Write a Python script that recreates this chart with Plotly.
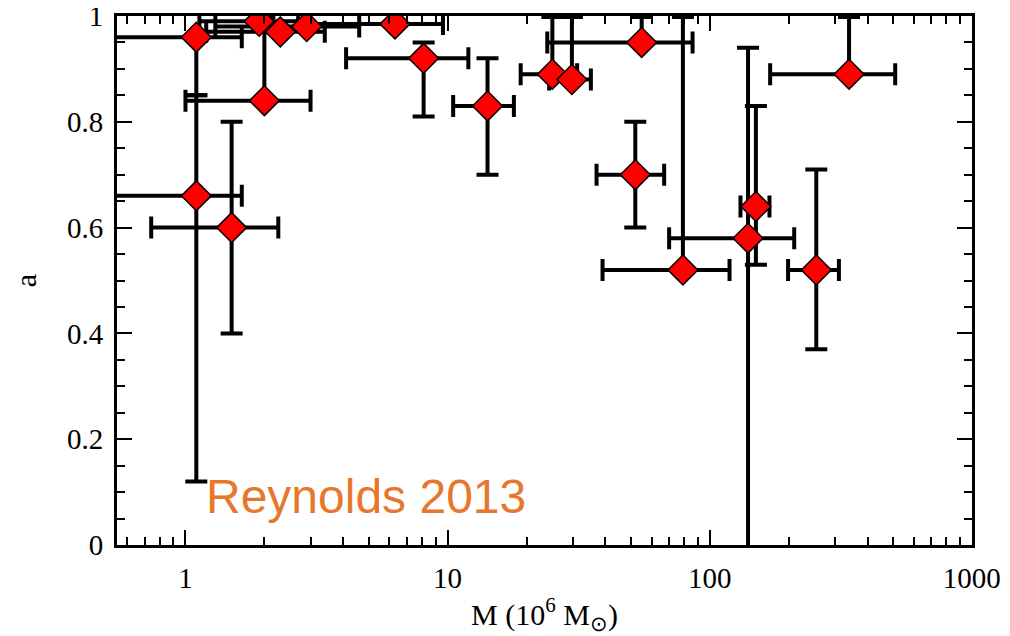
import plotly.graph_objects as go
import math

# Black hole mass (10^6 Msun) and spin a, with asymmetric errors
mass       = [1.1, 1.1, 1.5, 2.0, 1.91, 2.3, 2.9, 6.3, 8.1, 14.2, 25.1, 29.8, 55, 52, 79, 140, 150, 255, 340]
mass_plus  = [0.54, 0.54, 0.76, 1.0, 0.78, 1.1, 1.7, 3.3, 3.9, 3.7, 6.1, 5.4, 31, 15, 40, 70, 19, 56, 170]
mass_minus = [0.6, 0.6, 0.76, 1.0, 0.78, 1.1, 1.6, 3.3, 4.0, 3.7, 6.1, 5.4, 31, 15, 40, 70, 19, 56, 170]
spin       = [0.96, 0.66, 0.60, 0.84, 0.99, 0.97, 0.98, 0.985, 0.92, 0.83, 0.89, 0.88, 0.95, 0.70, 0.52, 0.58, 0.64, 0.52, 0.89]
spin_plus  = [0.0, 0.19, 0.2, 0.158, 0.0, 0.0, 0.0, 0.0, 0.03, 0.09, 0.108, 0.118, 0.048, 0.1, 0.478, 0.36, 0.19, 0.19, 0.108]
spin_minus = [0.11, 0.54, 0.2, 0.0, 0.0, 0.0, 0.0, 0.0, 0.11, 0.13, 0.0, 0.0, 0.0, 0.1, 0.0, 0.74, 0.11, 0.15, 0.0]

x_ticks = [1, 10, 100, 1000]
y_ticks = [0, 0.2, 0.4, 0.6, 0.8, 1]

serif = "Liberation Serif, Times New Roman, serif"

fig = go.Figure()
fig.add_trace(go.Scatter(
    x=mass, y=spin, mode="markers",
    marker=dict(symbol="diamond", size=23, color="#ff0000",
                line=dict(color="black", width=1.5)),
    error_x=dict(type="data", symmetric=False, array=mass_plus, arrayminus=mass_minus,
                 color="black", thickness=4, width=11),
    error_y=dict(type="data", symmetric=False, array=spin_plus, arrayminus=spin_minus,
                 color="black", thickness=4, width=11),
    showlegend=False,
))

axis_common = dict(
    showline=True, linecolor="black", linewidth=3, mirror="ticks",
    ticks="inside", ticklen=15, tickwidth=1.5, tickcolor="black",
    showgrid=False, zeroline=False, automargin=False,
    ticklabeloverflow="allow",
    tickfont=dict(family=serif, size=29, color="black"),
)

fig.update_xaxes(
    type="log", range=[math.log10(0.548), 3.0005],
    tickvals=x_ticks, ticktext=[str(v) for v in x_ticks],
    ticklabelstandoff=5,
    minor=dict(ticks="inside", ticklen=8, tickwidth=1.5, tickcolor="black", dtick="D1", showgrid=False),
    title=dict(text="M (10<sup>6</sup> M<sub>⊙</sub>)", font=dict(family=serif, size=30, color="black"),
               standoff=20),
    **axis_common,
)
fig.update_yaxes(
    range=[0, 1], tickvals=y_ticks,
    ticklabelstandoff=5,
    minor=dict(ticks="inside", ticklen=8, tickwidth=1.5, tickcolor="black", dtick=0.05, showgrid=False),
    title=dict(text="a", font=dict(family=serif, size=30, color="black"), standoff=22),
    **axis_common,
)

fig.add_annotation(
    text="Reynolds 2013", xref="paper", yref="y", x=0.1018, y=0.092,
    xanchor="left", yanchor="middle", showarrow=False,
    font=dict(family="Liberation Sans, Arial, sans-serif", size=48, color="#e8772e"),
)

# page body adds an 8px offset, so the figure is sized to fit inside the window
fig.update_layout(
    width=1002, height=628,
    margin=dict(l=109, r=38, t=8, b=91),
    paper_bgcolor="white", plot_bgcolor="white",
)

fig.write_html("out.html")
